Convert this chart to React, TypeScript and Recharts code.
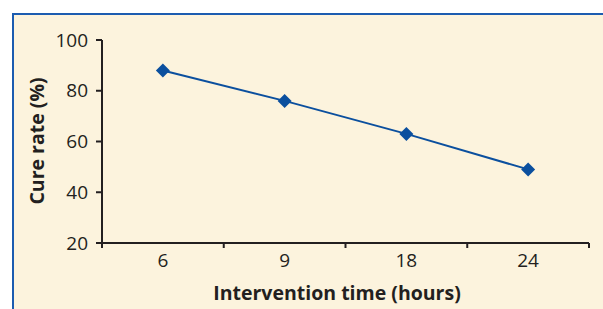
import { LineChart, Line, XAxis, YAxis } from "recharts";

const times = ["6", "9", "18", "24"];
const cureRates = [88, 76, 63, 49];
const yTicks = [20, 40, 60, 80, 100];
const bandEdges = [0, 1, 2, 3, 4];
const bandCentres = [0.5, 1.5, 2.5, 3.5];

// each category sits in the middle of its band on a 0..4 scale
const data = times.map((t, i) => ({ pos: i + 0.5, time: t, rate: cureRates[i] }));

const INK = "#231f20";
const BLUE = "#0b4f9e";
const FONT = "'Open Sans', sans-serif";

const Diamond = (props: any) => {
  const { cx, cy } = props;
  if (cx == null || cy == null) return null;
  const r = 7;
  return <path d={`M${cx},${cy - r}L${cx + r},${cy}L${cx},${cy + r}L${cx - r},${cy}Z`} fill={BLUE} />;
};

export default function App() {
  return (
    <div style={{ position: "fixed", left: 0, top: 0, width: 603, height: 309, background: "#fff", overflow: "hidden" }}>
      <div
        style={{
          position: "absolute",
          left: 12,
          top: 13,
          right: 0,
          bottom: 0,
          background: "#fcf3dd",
          borderTop: "2px solid #1c5cb0",
          borderLeft: "2px solid #1c5cb0",
        }}
      />
      <div style={{ position: "absolute", left: 0, top: 0 }}>
        <LineChart width={603} height={309} data={data} margin={{ top: 40, right: 14, bottom: 35, left: 42 }}>
          {/* axis line + tick marks at band edges */}
          <XAxis
            xAxisId="edges"
            dataKey="pos"
            type="number"
            domain={[0, 4]}
            ticks={bandEdges}
            interval={0}
            allowDataOverflow
            tickFormatter={() => ""}
            height={1}
            tickSize={5}
            axisLine={{ stroke: INK, strokeWidth: 2 }}
            tickLine={{ stroke: INK, strokeWidth: 2 }}
          />
          {/* category labels in band centres */}
          <XAxis
            xAxisId="labels"
            dataKey="pos"
            type="number"
            domain={[0, 4]}
            ticks={bandCentres}
            interval={0}
            allowDataOverflow
            tickFormatter={(v: number) => times[Math.floor(v)]}
            height={30}
            axisLine={false}
            tickLine={false}
            tickSize={6}
            tickMargin={4}
            tick={{ fontSize: 19, fill: INK, fontFamily: FONT }}
          />
          <YAxis
            domain={[20, 100]}
            ticks={yTicks}
            width={60}
            tickSize={6}
            tickMargin={8}
            axisLine={{ stroke: INK, strokeWidth: 2 }}
            tickLine={{ stroke: INK, strokeWidth: 2 }}
            tick={{ fontSize: 19, fill: INK, fontFamily: FONT }}
          />
          <Line
            xAxisId="edges"
            dataKey="rate"
            stroke={BLUE}
            strokeWidth={2}
            dot={<Diamond />}
            activeDot={false}
            isAnimationActive={false}
          />
          <text x={337} y={292} textAnchor="middle" dominantBaseline="central" fontFamily={FONT} fontWeight={700} fontSize={19.5} fill={INK}>
            Intervention time (hours)
          </text>
          <text
            x={36}
            y={141}
            textAnchor="middle"
            dominantBaseline="central"
            fontFamily={FONT}
            fontWeight={700}
            fontSize={19.5}
            fill={INK}
            transform="rotate(-90 36 141)"
          >
            Cure rate (%)
          </text>
        </LineChart>
      </div>
    </div>
  );
}
